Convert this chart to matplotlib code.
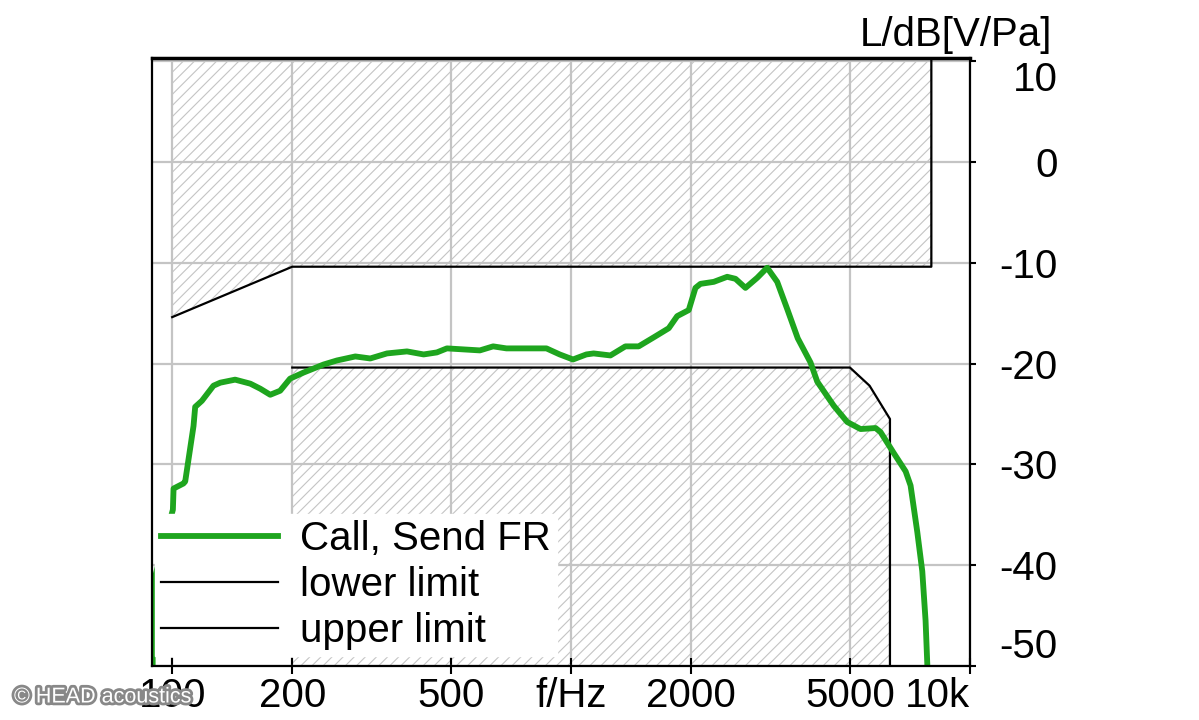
import matplotlib
matplotlib.use('Agg')
import matplotlib.pyplot as plt
import matplotlib.patheffects as pe
import numpy as np

plt.rcParams['font.family'] = ['Liberation Sans', 'DejaVu Sans']
plt.rcParams['axes.unicode_minus'] = False
plt.rcParams['hatch.linewidth'] = 0.8
plt.rcParams['hatch.color'] = '#c4c4c4'

freq = [89.2, 89.4, 100.4, 100.8, 106.7, 107.8, 113.1, 114.2, 118.7, 126.9, 132, 143.8,
        157, 166.3, 176.1, 186.5, 197.5, 213.4, 239.6, 258.7, 287.8, 313.7, 345.5,
        387.8, 426.9, 460.8, 488.3, 590.6, 637.6, 688.5, 867.3, 936.4, 1011, 1092,
        1139, 1255, 1368, 1477, 1612, 1757, 1845, 1972, 2050, 2110, 2279, 2462, 2583,
        2736, 2928, 3101, 3286, 3482, 3700, 3983, 4141, 4557, 4923, 5316, 5798, 5967,
        6444, 6897, 7096, 7376, 7592, 7738, 7815, 7900]
level = [-70, -42, -34.5, -32.4, -31.9, -31.7, -26.2, -24.3, -23.7, -22.2, -21.9, -21.6,
         -22.0, -22.5, -23.1, -22.7, -21.5, -20.9, -20.1, -19.7, -19.3, -19.5, -19.0,
         -18.8, -19.1, -18.9, -18.5, -18.7, -18.3, -18.5, -18.5, -19.1, -19.6, -19.1,
         -19.0, -19.2, -18.3, -18.3, -17.4, -16.5, -15.3, -14.7, -12.5, -12.1, -11.9,
         -11.4, -11.6, -12.5, -11.5, -10.5, -11.9, -14.6, -17.5, -19.9, -21.8, -24.2,
         -25.8, -26.5, -26.4, -26.8, -28.9, -30.7, -32.1, -36.7, -40.6, -45.5, -49.8, -56]

upper_f = [100, 200, 8000, 8000]
upper_db = [-15.4, -10.4, -10.4, 20]
lower_f = [200, 5000, 5600, 6300, 6300]
lower_db = [-20.4, -20.4, -22.2, -25.5, -60]

xticks = [100, 200, 500, 1000, 2000, 5000, 10000]
xlabels = ['100', '200', '500', 'f/Hz', '2000', '5000', '10k']
yticks = [10, 0, -10, -20, -30, -40, -50]

fig = plt.figure(figsize=(11.99, 7.2), dpi=100)
ax = fig.add_axes([152 / 1199, 54 / 720, 818 / 1199, 608 / 720])
ax.set_xscale('log')
ax.set_xlim(89, 10000)
ax.set_ylim(-49.7, 10.3)

# hatched forbidden areas
ax.fill_between(upper_f[:3], upper_db[:3], 30, facecolor='white', hatch='///',
                edgecolor='#c4c4c4', linewidth=0, zorder=1)
ax.fill_between(lower_f[:4], -60, lower_db[:4], facecolor='white', hatch='///',
                edgecolor='#c4c4c4', linewidth=0, zorder=1)

ax.grid(True, which='major', color='#c4c4c4', linewidth=1.6, zorder=2)
ax.set_axisbelow(False)

ax.plot(freq, level, color='#1ea51e', linewidth=4.2, zorder=4, label='Call, Send FR',
        solid_joinstyle='round')
ax.plot(lower_f, lower_db, color='black', linewidth=1.6, zorder=3, label='lower limit')
ax.plot(upper_f, upper_db, color='black', linewidth=1.6, zorder=3, label='upper limit')

ax.set_xticks(xticks)
ax.set_xticklabels(xlabels)
ax.xaxis.set_minor_locator(matplotlib.ticker.NullLocator())
ax.set_yticks(yticks)
ax.yaxis.tick_right()
ax.tick_params(axis='x', direction='inout', length=12, width=1.5, labelsize=29, pad=2)
ax.tick_params(axis='y', direction='out', length=4, width=1.5, labelsize=29, pad=59)
for lab in ax.get_yticklabels():
    lab.set_horizontalalignment('right')
ylabs = ax.get_yticklabels()
ylabs[0].set_verticalalignment('top')
ylabs[-1].set_verticalalignment('bottom')
ax.get_xticklabels()[-1].set_horizontalalignment('right')

for s in ax.spines.values():
    s.set_linewidth(1.6)
    s.set_zorder(6)
ax.spines['top'].set_linewidth(2.5)

leg = ax.legend(loc='lower left', bbox_to_anchor=(0.004, 0.016), borderaxespad=0,
                fontsize=29, frameon=True, fancybox=False, framealpha=1,
                edgecolor='white', facecolor='white', handlelength=2.9,
                handletextpad=0.55, labelspacing=0.2, borderpad=0.15)
leg.set_zorder(5)

fig.text(1052 / 1199, 1 - 35 / 720, 'L/dB[V/Pa]', ha='right', va='center', fontsize=29)
fig.text(14 / 1199, 1 - 697 / 720, '\u00a9 HEAD acoustics', ha='left', va='center',
         fontsize=15.5, color='white',
         path_effects=[pe.withStroke(linewidth=4, foreground='#888888')])

fig.savefig('out.png', dpi=100)
